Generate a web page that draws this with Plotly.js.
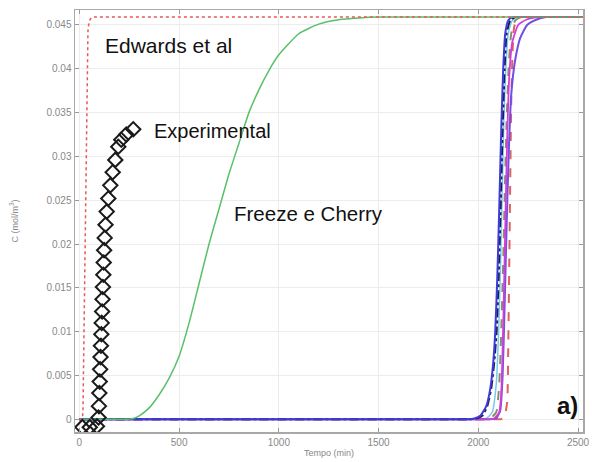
<!DOCTYPE html>
<html>
<head>
<meta charset="utf-8">
<script src="https://cdn.plot.ly/plotly-3.0.1.min.js"></script>
<style>
  html, body { margin: 0; padding: 0; background: #fff; }
  #chart { width: 595px; height: 462px; }
</style>
</head>
<body>
<div id="chart"></div>
<script>
// Breakthrough curves: outlet concentration C (mol/m3) vs time (min)

// Experimental points
const expT = [15, 52, 88, 96, 98, 100, 102, 104, 106, 108, 110, 112, 114, 116, 118, 120, 122, 124, 127, 131, 137, 145, 155, 167, 180, 195, 210, 235, 270];
const expC = [-0.0009, -0.0009, -0.0008, 0.0002, 0.0015, 0.003, 0.0043, 0.0057, 0.0071, 0.0084, 0.0097, 0.011, 0.0123, 0.0137, 0.0151, 0.0165, 0.0179, 0.0193, 0.0207, 0.0222, 0.0237, 0.0252, 0.0267, 0.0282, 0.0296, 0.0311, 0.0319, 0.0325, 0.0331];

// Edwards et al model
const edwT = [0, 15, 18, 21, 24, 27, 30, 33, 36, 39, 43, 48, 55, 65, 80, 2525];
const edwC = [0, 0, 0.001, 0.006, 0.012, 0.018, 0.024, 0.030, 0.036, 0.041, 0.0443, 0.0453, 0.0457, 0.0459, 0.0459, 0.0459];

// Freeze e Cherry model
const fcT = [0, 100, 200, 240, 270, 300, 350, 400, 450, 500, 550, 600, 650, 700, 750, 800, 850, 900, 950, 1000, 1100, 1200, 1300, 1400, 1500, 1700, 2000, 2300, 2525];
const fcC = [0, 0, 0, 0, 0.0001, 0.0004, 0.0013, 0.0028, 0.0047, 0.0072, 0.0110, 0.0155, 0.0200, 0.0240, 0.0280, 0.0315, 0.0350, 0.0376, 0.0398, 0.0416, 0.0440, 0.0451, 0.0456, 0.0458, 0.0459, 0.0459, 0.0459, 0.0459, 0.0459];

// Other model curves (late breakthrough)
const blueT = [0, 500, 1000, 1500, 1900, 1950, 1980, 2010, 2040, 2060, 2075, 2085, 2095, 2105, 2115, 2125, 2135, 2150, 2170, 2200, 2300, 2525];
const blueC = [0, 0, 0, 0, 0, 0, 0.0001, 0.0004, 0.0015, 0.0035, 0.0065, 0.010, 0.016, 0.024, 0.033, 0.040, 0.0440, 0.0455, 0.0459, 0.0459, 0.0459, 0.0459];

const navyT = [0, 500, 1000, 1500, 1900, 1960, 1990, 2020, 2045, 2065, 2080, 2092, 2102, 2112, 2122, 2132, 2142, 2160, 2185, 2215, 2300, 2525];
const navyC = [0, 0, 0, 0, 0, 0, 0.0001, 0.0004, 0.0015, 0.0035, 0.0065, 0.010, 0.016, 0.024, 0.033, 0.040, 0.0440, 0.0455, 0.0459, 0.0459, 0.0459, 0.0459];

const cyanT = [0, 500, 1000, 1500, 1950, 2010, 2040, 2070, 2090, 2102, 2112, 2120, 2128, 2138, 2150, 2170, 2200, 2250, 2350, 2525];
const cyanC = [0, 0, 0, 0, 0, 0, 0.0001, 0.0008, 0.004, 0.010, 0.018, 0.026, 0.034, 0.040, 0.0440, 0.0455, 0.0459, 0.0459, 0.0459, 0.0459];

const oliveT = [0, 500, 1000, 1500, 1980, 2030, 2060, 2090, 2105, 2115, 2125, 2133, 2142, 2152, 2165, 2185, 2215, 2260, 2350, 2525];
const oliveC = [0, 0, 0, 0, 0, 0, 0.0001, 0.0008, 0.004, 0.010, 0.018, 0.026, 0.034, 0.040, 0.0440, 0.0455, 0.0459, 0.0459, 0.0459, 0.0459];

const magT = [0, 500, 1000, 1500, 2000, 2050, 2080, 2105, 2115, 2122, 2130, 2138, 2146, 2155, 2170, 2200, 2240, 2300, 2380, 2525];
const magC = [0, 0, 0, 0, 0, 0, 0.0001, 0.0008, 0.003, 0.008, 0.016, 0.025, 0.033, 0.039, 0.0430, 0.0450, 0.0456, 0.0459, 0.0459, 0.0459];

const violT = [0, 500, 1000, 1500, 2000, 2060, 2090, 2110, 2122, 2132, 2142, 2152, 2165, 2185, 2210, 2245, 2290, 2340, 2420, 2525];
const violC = [0, 0, 0, 0, 0, 0, 0.0001, 0.001, 0.005, 0.013, 0.022, 0.030, 0.037, 0.041, 0.0435, 0.0450, 0.0456, 0.0459, 0.0459, 0.0459];

const redT = [0, 500, 1000, 1500, 2000, 2080, 2110, 2130, 2145, 2150, 2155, 2160, 2165, 2172, 2180, 2195, 2215, 2260, 2350, 2525];
const redC = [0, 0, 0, 0, 0, 0, 0, 0.0002, 0.002, 0.008, 0.017, 0.027, 0.036, 0.042, 0.0448, 0.0456, 0.0459, 0.0459, 0.0459, 0.0459];

const xTicks = [0, 500, 1000, 1500, 2000, 2500];
const yTicks = [0, 0.005, 0.01, 0.015, 0.02, 0.025, 0.03, 0.035, 0.04, 0.045];

function line(x, y, color, dash, width, shape) {
  return { x: x, y: y, type: 'scatter', mode: 'lines', hoverinfo: 'skip',
           line: { color: color, dash: dash, width: width, shape: shape || 'linear', smoothing: 0.5 } };
}

const traces = [
  line(oliveT, oliveC, '#8c8c6c', 'dash', 2, 'spline'),
  line(cyanT, cyanC, '#78c8ec', 'solid', 1.5, 'spline'),
  line(redT, redC, '#e06060', 'dash', 2, 'spline'),
  line(violT, violC, '#7050e0', 'solid', 2, 'spline'),
  line(magT, magC, '#d040d8', 'solid', 1.8, 'spline'),
  line(navyT, navyC, '#1c1c50', 'dashdot', 2, 'spline'),
  line(blueT, blueC, '#3c3cd8', 'solid', 2, 'spline'),
  line(fcT, fcC, '#58c068', 'solid', 1.5, 'spline'),
  line(edwT, edwC, '#e85858', 'dot', 1.5),
  { x: expT, y: expC, type: 'scatter', mode: 'markers', hoverinfo: 'skip',
    marker: { symbol: 'diamond-open', size: 11, color: '#1a1a1a', line: { width: 2, color: '#1a1a1a' } } }
];

const fam = 'Arial, "Liberation Sans", sans-serif';
const txt = { family: fam, size: 20, color: '#111' };

const layout = {
  width: 595, height: 462,
  margin: { l: 75, r: 12, t: 10, b: 30 },
  paper_bgcolor: '#fff', plot_bgcolor: '#fff',
  showlegend: false,
  xaxis: {
    range: [-22, 2525], tickvals: xTicks, tickformat: 'd',
    ticks: 'inside', ticklen: 4, tickcolor: '#999',
    showline: true, linecolor: '#a8a8a8', linewidth: 1.5, mirror: 'ticks',
    showgrid: true, gridcolor: '#ececec', zeroline: false,
    tickfont: { family: fam, size: 10, color: '#888' },
    title: { text: 'Tempo (min)', standoff: 3, font: { family: fam, size: 9, color: '#888' } }
  },
  yaxis: {
    range: [-0.00145, 0.04671], tickvals: yTicks,
    ticks: 'inside', ticklen: 4, tickcolor: '#999',
    showline: true, linecolor: '#a8a8a8', linewidth: 1.5, mirror: 'ticks',
    showgrid: true, gridcolor: '#ececec', zeroline: false,
    tickfont: { family: fam, size: 10, color: '#888' },
    title: { text: 'C (mol/m<sup>3</sup>)', standoff: 26, font: { family: fam, size: 9, color: '#888' } }
  },
  annotations: [
    { x: 120, y: 0.0427, xref: 'x', yref: 'y', text: 'Edwards et al', showarrow: false, xanchor: 'left', yanchor: 'middle', font: { family: fam, size: 21, color: '#111' } },
    { x: 363, y: 0.0329, xref: 'x', yref: 'y', text: 'Experimental', showarrow: false, xanchor: 'left', yanchor: 'middle', font: txt },
    { x: 764, y: 0.0235, xref: 'x', yref: 'y', text: 'Freeze e Cherry', showarrow: false, xanchor: 'left', yanchor: 'middle', font: { family: fam, size: 20.5, color: '#111' } },
    { x: 2385, y: 0.0016, xref: 'x', yref: 'y', text: '<b>a)</b>', showarrow: false, xanchor: 'left', yanchor: 'middle',
      font: { family: fam, size: 24, color: '#111' } }
  ]
};

Plotly.newPlot('chart', traces, layout, { staticPlot: true, displayModeBar: false });
</script>
</body>
</html>
